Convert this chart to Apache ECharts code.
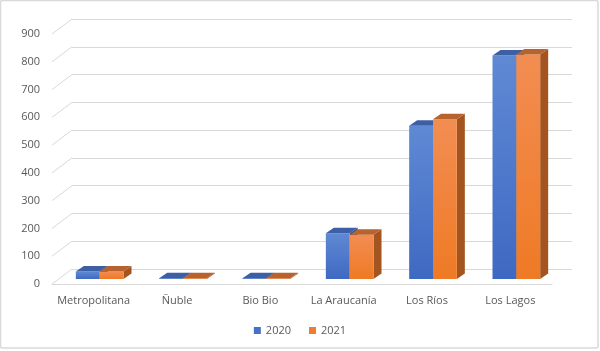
<!DOCTYPE html>
<html>
<head>
<meta charset="utf-8">
<script src="https://cdn.jsdelivr.net/npm/echarts@6/dist/echarts.min.js"></script>
<style>
  html, body { margin: 0; padding: 0; background: #fff; }
  #main { width: 600px; height: 351px; }
</style>
</head>
<body>
<div id="main"></div>
<script>
// regions and values
var regions = ['Metropolitana', 'Ñuble', 'Bio Bio', 'La Araucanía', 'Los Ríos', 'Los Lagos'];
var values2020 = [27, 3, 3, 165, 552, 805];
var values2021 = [27, 3, 3, 159, 575, 808];
var yTicks = [0, 100, 200, 300, 400, 500, 600, 700, 800, 900];

var myChart = echarts.init(document.getElementById('main'));

var font = 'Open Sans';
var textGray = '#595959';
var lineGray = '#d9d9d9';

// 3d look for one bar series: front face, top face, right side face
function barRenderer(slot, front, top, side) {
    return function (params, api) {
        var cat = api.value(0);
        var val = api.value(1);
        var base = api.coord([cat, 0]);
        var tip = api.coord([cat, val]);
        var band = api.size([1, 0])[0];
        var w = band * 0.286;
        var x0 = base[0] - w + slot * w;
        var x1 = x0 + w;
        var dx = 8, dy = -5.5;
        return {
            type: 'group',
            children: [
                {
                    type: 'polygon',
                    shape: { points: [[x1, tip[1]], [x1 + dx, tip[1] + dy], [x1 + dx, base[1] + dy], [x1, base[1]]] },
                    style: { fill: side }
                },
                {
                    type: 'rect',
                    shape: { x: x0, y: tip[1], width: w, height: base[1] - tip[1] },
                    style: { fill: new echarts.graphic.LinearGradient(0, 0, 0, 1, [
                        { offset: 0, color: front[0] }, { offset: 1, color: front[1] }
                    ]) }
                },
                {
                    type: 'polygon',
                    shape: { points: [[x0, tip[1]], [x0 + dx, tip[1] + dy], [x1 + dx, tip[1] + dy], [x1, tip[1]]] },
                    style: { fill: top }
                }
            ]
        };
    };
}

option = {
    animation: false,
    backgroundColor: '#fff',
    graphic: [{
        type: 'rect',
        shape: { x: 0.5, y: 0.5, width: 597.5, height: 347.5, r: 2 },
        style: { fill: 'none', stroke: '#d9d9d9', lineWidth: 1.5 },
        z: 100
    }],
    legend: {
        data: ['2020', '2021'],
        left: 'center',
        top: 320,
        icon: 'rect',
        itemWidth: 7,
        itemHeight: 7,
        itemGap: 18,
        textStyle: { color: textGray, fontFamily: font, fontSize: 11 }
    },
    grid: [
        // plane where the bars stand
        { left: 58, top: 29, width: 500, height: 250 },
        // back wall
        { left: 72, top: 19, width: 500, height: 250 },
        // front edge (labels)
        { left: 52, top: 34, width: 500, height: 250 }
    ],
    xAxis: [
        { gridIndex: 0, type: 'category', data: regions, show: false },
        { gridIndex: 1, type: 'value', min: 0, max: 1, show: false },
        {
            gridIndex: 2, type: 'category', data: regions,
            axisLine: { lineStyle: { color: lineGray } },
            axisTick: { show: false },
            axisLabel: { color: textGray, fontFamily: font, fontSize: 11, margin: 11, interval: 0 }
        }
    ],
    yAxis: [
        { gridIndex: 0, type: 'value', min: 0, max: 900, interval: 100, show: false },
        {
            gridIndex: 1, type: 'value', min: 0, max: 900, interval: 100,
            axisLabel: { show: false }, axisLine: { show: false }, axisTick: { show: false },
            splitLine: { lineStyle: { color: lineGray, width: 1 } }
        },
        {
            gridIndex: 2, type: 'value', min: 0, max: 900, interval: 100,
            axisLine: { show: false }, axisTick: { show: false }, splitLine: { show: false },
            axisLabel: { color: textGray, fontFamily: font, fontSize: 11, margin: 12 }
        }
    ],
    series: [
        {
            // left wall edges of the gridlines
            type: 'custom',
            xAxisIndex: 1, yAxisIndex: 1,
            silent: true,
            data: yTicks.map(function (v) { return [0, v]; }),
            renderItem: function (params, api) {
                var p = api.coord([0, api.value(1)]);
                return {
                    type: 'line',
                    shape: { x1: p[0] - 20, y1: p[1] + 15, x2: p[0], y2: p[1] },
                    style: { stroke: lineGray, lineWidth: 1 }
                };
            }
        },
        {
            name: '2020',
            type: 'custom',
            xAxisIndex: 0, yAxisIndex: 0,
            itemStyle: { color: '#4472c4' },
            data: values2020.map(function (v, i) { return [i, v]; }),
            renderItem: barRenderer(0, ['#6089d4', '#3e69c2'], '#3c5fa5', '#2f4f8f'),
            z: 3
        },
        {
            name: '2021',
            type: 'custom',
            xAxisIndex: 0, yAxisIndex: 0,
            itemStyle: { color: '#ed7d31' },
            data: values2021.map(function (v, i) { return [i, v]; }),
            renderItem: barRenderer(1, ['#f28d52', '#ef7a25'], '#b8622e', '#a3541f'),
            z: 4
        }
    ]
};

myChart.setOption(option);
</script>
</body>
</html>
